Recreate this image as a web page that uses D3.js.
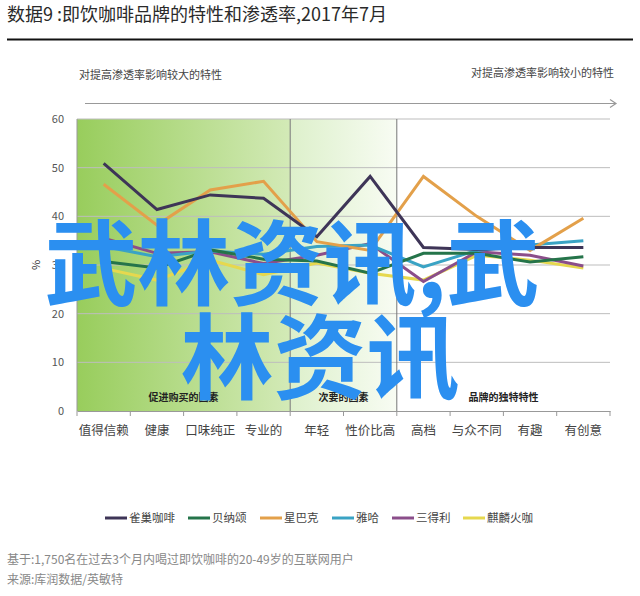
<!DOCTYPE html>
<html><head><meta charset="utf-8">
<script src="https://cdn.jsdelivr.net/npm/d3@7/dist/d3.min.js"></script>
<style>body{margin:0;background:#fff}svg{display:block}text{font-family:"Noto Sans CJK SC","Noto Sans",sans-serif}</style>
</head><body><svg id="c" width="640" height="596"></svg>
<script>
const categories = ["值得信赖","健康","口味纯正","专业的","年轻","性价比高","高档","与众不同","有趣","有创意"];
const seriesNames = ["雀巢咖啡","贝纳颂","星巴克","雅哈","三得利","麒麟火咖"];
const nestle   = [50.9,41.4,44.4,43.7,35.8,48.2,33.6,33.2,33.6,33.6];
const benaso   = [30.7,29.4,33.1,31.2,30.8,28.3,32.4,32.4,30.6,31.7];
const starbucks= [46.6,38.2,45.4,47.2,34.8,33.0,48.2,40.0,33.0,39.6];
const yaha     = [33.8,31.7,32.9,32.2,33.8,34.1,29.6,33.0,34.1,35.0];
const suntory  = [35.5,32.4,32.7,30.3,32.0,34.4,26.6,32.7,32.0,29.8];
const kirin    = [29.3,26.9,31.0,28.0,30.4,28.3,26.9,32.0,31.0,29.4];
const seriesValues = [nestle,benaso,starbucks,yaha,suntory,kirin];
const colors = ["#3e3557","#25744a","#e3a04a","#3aa3c4","#8b4e8a","#e6d84e"];
const yTicks = [0,10,20,30,40,50,60];
const groups = [{label:"促进购买的因素",from:0,to:4},{label:"次要的因素",from:4,to:6},{label:"品牌的独特特性",from:6,to:10}];

const svg = d3.select("#c");
const L=77,R=610,T=119,B=411;
const x = d3.scaleBand().domain(categories).range([L,R]);
const y = d3.scaleLinear().domain([0,60]).range([B,T]);
const defs = svg.append("defs");
const g1 = defs.append("linearGradient").attr("id","g1");
g1.append("stop").attr("offset","0%").attr("stop-color","#98cd5c");
g1.append("stop").attr("offset","100%").attr("stop-color","#d3eab7");
const g2 = defs.append("linearGradient").attr("id","g2");
g2.append("stop").attr("offset","0%").attr("stop-color","#ddf0cb");
g2.append("stop").attr("offset","100%").attr("stop-color","#f8fcf3");
const bx = i => i<categories.length ? x(categories[i]) : R;
svg.append("rect").attr("x",bx(0)).attr("y",T).attr("width",bx(4)-bx(0)).attr("height",B-T).attr("fill","url(#g1)");
svg.append("rect").attr("x",bx(4)).attr("y",T).attr("width",bx(6)-bx(4)).attr("height",B-T).attr("fill","url(#g2)");

// title
svg.append("text").attr("x",7).attr("y",21).attr("font-size",18).attr("fill","#2a2a2a").text("数据9 :即饮咖啡品牌的特性和渗透率,2017年7月");
svg.append("line").attr("x1",7).attr("x2",633).attr("y1",39.5).attr("y2",39.5).attr("stroke","#111").attr("stroke-width",2);
svg.append("text").attr("x",79).attr("y",79).attr("font-size",11).attr("fill","#444").text("对提高渗透率影响较大的特性");
svg.append("text").attr("x",614).attr("y",77).attr("text-anchor","end").attr("font-size",11).attr("fill","#444").text("对提高渗透率影响较小的特性");
svg.append("line").attr("x1",85).attr("x2",616).attr("y1",103.5).attr("y2",103.5).attr("stroke","#999").attr("stroke-width",1.2);
svg.append("path").attr("d","M610,99.5 L616,103.5 L610,107.5").attr("fill","none").attr("stroke","#999").attr("stroke-width",1.2);

// grid
svg.append("g").selectAll("line").data(yTicks.filter(d=>d>0)).join("line")
  .attr("x1",L).attr("x2",R).attr("y1",d=>y(d)).attr("y2",d=>y(d)).attr("stroke","#bdbdbd").attr("stroke-width",1);
// y labels
svg.append("g").selectAll("text").data(yTicks).join("text")
  .attr("x",64).attr("y",d=>y(d)+4).attr("text-anchor","end").attr("font-size",11).attr("fill","#555").attr("font-family","Liberation Sans, Arial").text(d=>d);
svg.append("line").attr("x1",L).attr("x2",L).attr("y1",T).attr("y2",B).attr("stroke","#999");
svg.append("text").attr("transform","translate(40,265) rotate(-90)").attr("text-anchor","middle").attr("font-size",11).attr("fill","#333").text("%");
// x axis
const xa = svg.append("g").attr("transform",`translate(0,${B})`).call(d3.axisBottom(x).tickSize(0).tickPadding(15));
xa.select(".domain").attr("stroke","#999");
xa.selectAll("text").attr("font-size",12.5).attr("fill","#444").attr("font-family","Noto Sans CJK SC");
svg.append("g").selectAll("line").data(d3.range(categories.length+1)).join("line")
  .attr("x1",bx).attr("x2",bx).attr("y1",B).attr("y2",B+5).attr("stroke","#999");
// separators
svg.append("g").selectAll("line").data([4,6]).join("line")
  .attr("x1",bx).attr("x2",bx).attr("y1",T).attr("y2",B).attr("stroke","#777").attr("stroke-width",1);
// group labels
svg.append("g").selectAll("text").data(groups).join("text")
  .attr("x",d=>(bx(d.from)+bx(d.to))/2).attr("y",401).attr("text-anchor","middle")
  .attr("font-size",10).attr("font-weight","bold").attr("fill","#222").text(d=>d.label);

// lines
const line = d3.line().x((d,i)=>x(categories[i])+x.bandwidth()/2).y(d=>y(d));
const order=[5,4,3,1,2,0];
svg.append("g").selectAll("path").data(order).join("path")
  .attr("d",k=>line(seriesValues[k])).attr("fill","none").attr("stroke",k=>colors[k]).attr("stroke-width",3);

// legend
const lx=[105,188,260,332,392,463];
const lg = svg.append("g").selectAll("g").data(seriesNames).join("g").attr("transform",(d,i)=>`translate(${lx[i]},518)`);
lg.append("line").attr("x1",0).attr("x2",22).attr("stroke",(d,i)=>colors[i]).attr("stroke-width",3);
lg.append("text").attr("x",24).attr("y",4).attr("font-size",11.5).attr("fill","#444").text(d=>d);

// footer
svg.append("text").attr("x",7).attr("y",564).attr("font-size",12).attr("fill","#888").text("基于:1,750名在过去3个月内喝过即饮咖啡的20-49岁的互联网用户");
svg.append("text").attr("x",7).attr("y",584).attr("font-size",12).attr("fill","#888").text("来源:库润数据/英敏特");

// watermark
const wm = svg.append("g").attr("fill","#2b8ff0").attr("font-weight","bold").attr("font-size",93).attr("text-anchor","middle");
wm.append("text").attr("x",292).attr("y",298).text("武林资讯,武");
wm.append("text").attr("x",320).attr("y",392).text("林资讯");
</script></body></html>
